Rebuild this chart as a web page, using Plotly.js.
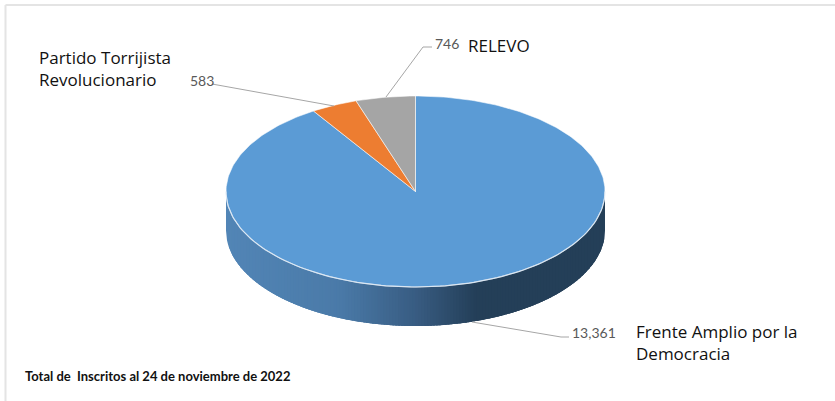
<!DOCTYPE html>
<html>
<head>
<meta charset="utf-8">
<script src="https://cdn.plot.ly/plotly-3.0.1.min.js"></script>
<style>html,body{margin:0;padding:0;background:#fff}#c{width:835px;height:401px}</style>
</head>
<body>
<div id="c"></div>
<script>
// Data
const categories = ['Frente Amplio por la<br>Democracia', 'Partido Torrijista<br>Revolucionario', 'RELEVO'];
const values = [13361, 583, 746];
const valueLabels = ['13,361', '583', '746'];
const sliceColors = ['#5B9BD5', '#ED7D31', '#A5A5A5'];
const footnote = 'Total de  Inscritos al 24 de noviembre de 2022';

// Wall shading stops: [fraction across the pie, colour]
const wallStops = [[0, [82, 133, 182]], [0.3, [74, 122, 168]], [0.5, [56, 92, 130]], [0.66, [36, 63, 88]], [1, [36, 63, 88]]];

// Pie projection in pixel coordinates of the axes
const cx = 415.5, cy = 191.5, rx = 189.5, ry = 95.5, depth = 39;
const total = values.reduce((a, b) => a + b, 0);
const pt = a => [cx + rx * Math.sin(a), cy - ry * Math.cos(a)];

const traces = [];
function poly(xs, ys, fill, lineColor, lineWidth) {
  traces.push({type: 'scatter', mode: 'lines', x: xs, y: ys, fill: 'toself', fillcolor: fill,
    line: {color: lineColor, width: lineWidth}, hoverinfo: 'skip', showlegend: false});
}
function line(xs, ys, color, width) {
  traces.push({type: 'scatter', mode: 'lines', x: xs, y: ys,
    line: {color: color, width: width}, hoverinfo: 'skip', showlegend: false});
}
function wallColor(t) {
  for (let i = 1; i < wallStops.length; i++) {
    if (t <= wallStops[i][0]) {
      const [t0, c0] = wallStops[i - 1], [t1, c1] = wallStops[i];
      const f = (t - t0) / (t1 - t0);
      return 'rgb(' + c0.map((v, k) => Math.round(v + (c1[k] - v) * f)).join(',') + ')';
    }
  }
  return 'rgb(36,63,88)';
}

// Side wall: overlapping vertical strips under the front half of the rim, painted left to right
const strips = 130;
const rim = x => cy + ry * Math.sqrt(Math.max(0, 1 - ((x - cx) / rx) ** 2));
for (let i = 0; i < strips; i++) {
  const x0 = cx - rx + 2 * rx * i / strips;
  const x1 = Math.min(cx + rx, cx - rx + 2 * rx * (i + 1) / strips + 5);
  const col = wallColor((i + 0.5) / strips);
  const xs = [], ys = [];
  for (let k = 0; k <= 8; k++) { const x = x0 + (x1 - x0) * k / 8; xs.push(x); ys.push(rim(x) - 4); }
  for (let k = 8; k >= 0; k--) { const x = x0 + (x1 - x0) * k / 8; xs.push(x); ys.push(rim(x) + depth); }
  poly(xs, ys, col, col, 0);
}

// Top face slices
let start = 0;
values.forEach((v, i) => {
  const end = start + v / total * 2 * Math.PI;
  const xs = [cx], ys = [cy];
  const n = Math.max(6, Math.ceil((end - start) * 60));
  for (let k = 0; k <= n; k++) {
    const p = pt(start + (end - start) * k / n);
    xs.push(p[0]); ys.push(p[1]);
  }
  xs.push(cx); ys.push(cy);
  poly(xs, ys, sliceColors[i], 'rgba(255,255,255,0.55)', 1);
  start = end;
});

// Pale highlight along the front rim
{
  const xs = [], ys = [];
  for (let k = 0; k <= 120; k++) {
    const a = Math.PI / 2 + Math.PI * k / 120, p = pt(a);
    xs.push(p[0]); ys.push(p[1]);
  }
  line(xs, ys, 'rgba(225,235,245,0.9)', 1.2);
}

// Leader lines
line([472, 561, 569], [322, 337, 337], '#a6a6a6', 1);
line([212, 334], [84, 106], '#a6a6a6', 1);
line([386, 423, 432], [97, 47, 47], '#a6a6a6', 1);

// Chart frame (top and left only are visible)
line([5.5, 835], [5, 5], '#e4e4e4', 2);
line([5.5, 5.5], [5, 401], '#e4e4e4', 2);

const numFont = {family: 'Lato, "Noto Sans", sans-serif', size: 14, color: '#595959'};
const catFont = {family: '"Open Sans", "Noto Sans", sans-serif', size: 17, color: '#111111'};
const ann = (x, y, text, font, align) => ({x, y, text, font, xref: 'x', yref: 'y', showarrow: false,
  xanchor: 'left', yanchor: 'middle', align: align || 'left'});

const layout = {
  width: 835, height: 401, margin: {l: 0, r: 0, t: 0, b: 0},
  paper_bgcolor: '#fff', plot_bgcolor: '#fff', showlegend: false,
  xaxis: {range: [0, 835], visible: false, fixedrange: true},
  yaxis: {range: [401, 0], visible: false, fixedrange: true},
  annotations: [
    ann(634, 342.5, categories[0], catFont),
    ann(37, 68.5, categories[1], catFont),
    ann(466, 45, categories[2], catFont),
    ann(570, 332, valueLabels[0], numFont),
    ann(188, 80.5, valueLabels[1], numFont),
    ann(433, 43.5, valueLabels[2], numFont),
    ann(23, 375.5, footnote, {family: 'Lato, "Noto Sans", sans-serif', size: 13, color: '#111111', weight: 700})
  ]
};
Plotly.newPlot('c', traces, layout, {displayModeBar: false, staticPlot: true});
</script>
</body>
</html>
